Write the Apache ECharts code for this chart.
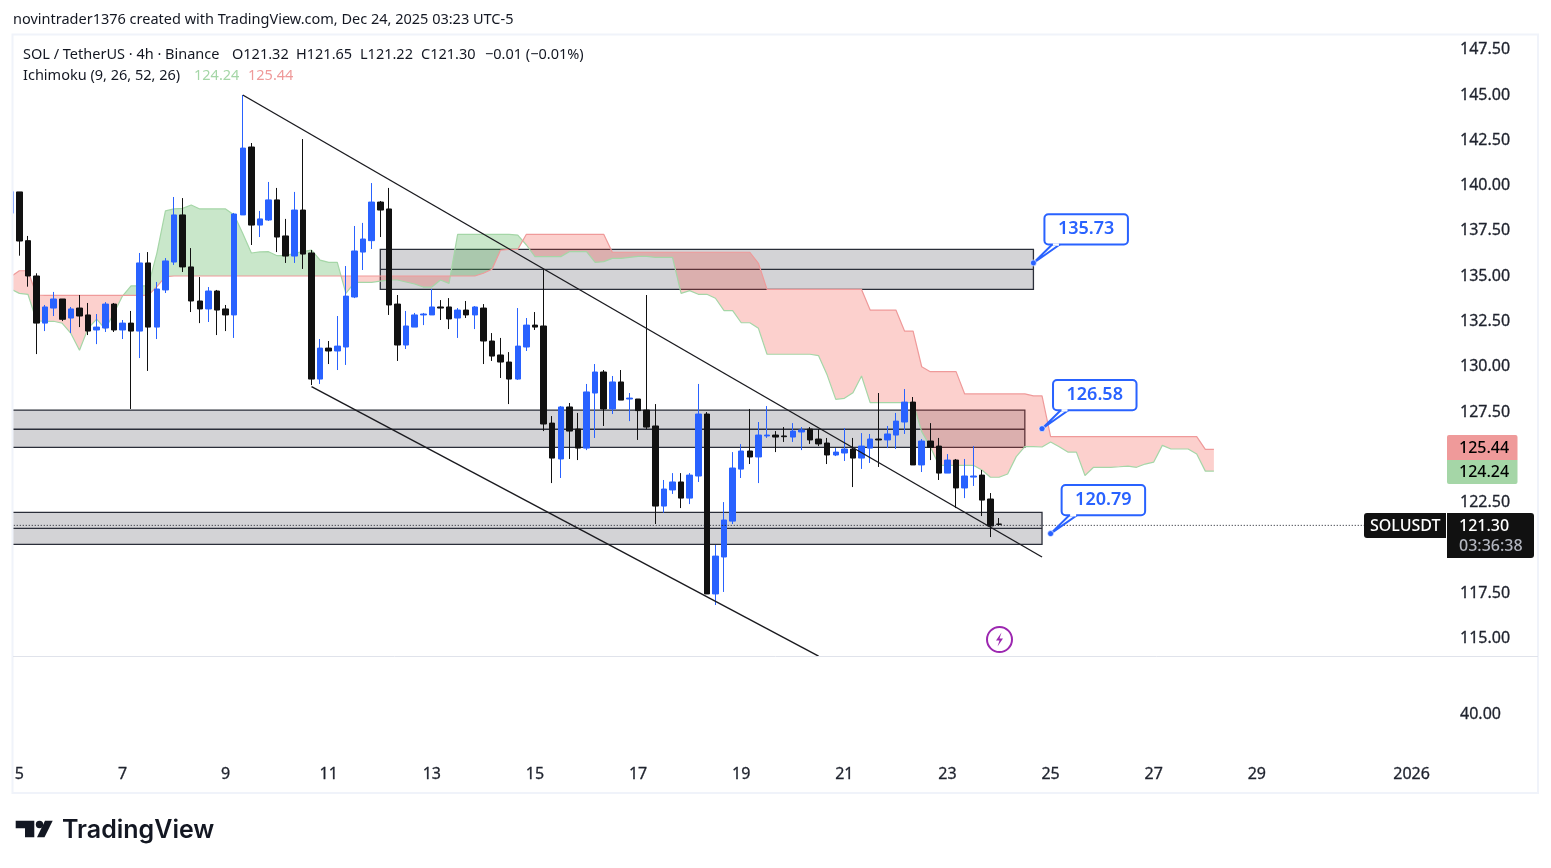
<!DOCTYPE html>
<html><head><meta charset="utf-8">
<style>html,body{margin:0;padding:0;background:#fff}#c{width:1551px;height:868px}</style>
<script src="https://cdn.jsdelivr.net/npm/echarts@6/dist/echarts.min.js"></script>
</head><body><div id="c"></div>
<script>
// candles: [open, close, low, high]; first entry is the bar cut off by the left edge
const candles = [
[138.48,139.66,138.48,139.66],
[139.65,136.94,136.13,139.65],[136.96,135.01,134.42,137.22],[135.01,132.41,130.70,135.16],[132.41,133.30,131.97,133.41],[133.24,133.74,132.80,134.13],
[133.74,132.62,132.52,133.74],[132.69,133.19,131.86,133.30],[133.24,132.80,132.19,133.96],[132.86,131.97,131.75,133.52],[132.03,132.19,131.25,132.91],
[132.14,133.46,131.92,133.57],[133.46,132.03,131.92,133.52],[132.03,132.41,131.53,132.58],[132.41,131.97,127.67,133.08],[131.97,135.73,130.48,136.28],
[135.73,132.19,129.77,136.33],[132.19,134.29,131.53,134.68],[134.24,135.84,134.07,136.00],[135.78,138.38,135.62,139.37],[138.38,135.51,135.23,139.31],
[135.51,133.63,133.02,136.55],[133.63,133.19,132.41,134.95],[133.19,134.18,132.47,134.40],[134.18,133.13,131.75,134.24],[133.19,132.86,131.97,133.41],
[132.86,138.43,131.59,138.49],[138.38,142.07,138.38,145.00],[142.13,137.82,136.72,142.35],[137.82,138.16,137.16,138.60],[138.10,139.21,138.05,140.20],
[139.21,137.16,136.33,139.87],[137.22,136.11,135.73,138.16],[136.11,138.65,135.73,139.65],[138.65,136.22,135.40,142.57],[136.28,129.32,128.99,136.44],
[129.32,131.03,129.05,131.53],[131.03,130.87,130.15,131.42],[130.87,131.14,129.82,132.80],[131.09,133.90,130.10,135.56],[133.85,136.39,133.79,137.77],
[136.33,137.05,135.34,137.94],[136.96,139.09,136.50,140.14],[139.09,138.65,137.16,139.15],[138.71,133.41,132.86,139.87],[133.46,131.20,130.32,133.96],
[131.20,132.25,130.98,133.08],[132.19,132.86,132.19,132.97],[132.86,132.91,132.30,132.97],[132.86,133.30,132.86,134.29],[133.30,133.24,132.58,133.68],
[133.30,132.64,132.08,133.79],[132.69,133.13,131.59,133.24],[133.13,132.86,132.69,133.63],[132.86,133.30,132.08,133.35],[133.24,131.42,130.15,133.46],
[131.42,130.59,130.32,131.86],[130.65,130.26,129.38,131.59],[130.26,129.32,127.94,130.81],[129.32,131.14,129.27,133.24],[131.09,132.30,130.87,132.69],
[132.30,132.19,132.03,133.02],[132.25,126.84,126.45,135.38],[126.89,124.96,123.58,127.28],[124.91,127.78,123.86,127.83],[127.78,126.45,124.91,128.00],
[126.56,125.51,124.85,127.45],[125.51,128.61,125.40,129.05],[128.55,129.71,126.07,130.15],[129.71,127.67,126.73,129.82],[127.67,129.16,127.39,129.49],
[129.16,128.16,128.16,129.82],[128.22,128.27,127.00,128.55],[128.22,127.58,125.96,128.22],[127.61,126.67,126.56,133.96],[126.73,122.31,121.32,127.94],
[122.31,123.25,121.94,123.75],[123.20,123.64,122.98,124.13],[123.64,122.75,122.20,124.13],[122.75,124.02,122.42,124.13],[123.97,127.39,123.64,129.05],
[127.39,117.46,117.46,127.50],[117.46,119.55,116.85,120.16],[119.50,121.54,117.57,122.53],[121.48,124.41,121.32,125.29],[124.35,125.35,123.86,125.73],
[125.35,125.02,124.63,127.67],[125.02,126.23,123.58,126.95],[126.18,126.23,126.07,127.83],[126.23,126.12,125.29,126.45],[126.18,126.14,125.85,126.67],
[126.12,126.45,125.85,126.89],[126.40,126.51,125.40,126.67],[126.56,125.96,125.74,126.67],[126.01,125.74,125.62,126.56],[125.79,125.13,124.63,126.07],
[125.13,125.29,125.07,125.51],[125.24,125.46,124.80,126.62],[125.46,124.96,123.36,126.07],[124.96,125.62,124.36,126.34],[125.51,126.01,124.69,126.29],
[126.01,125.96,124.47,128.55],[125.96,126.29,125.51,126.73],[126.23,127.00,125.46,127.45],[126.95,128.05,126.29,128.77],[128.05,124.58,124.58,128.33],
[124.58,125.90,124.19,126.01],[125.90,125.55,124.85,126.89],[125.62,124.13,123.75,126.07],[124.13,124.85,124.13,125.18],[124.85,123.31,122.20,124.91],
[123.31,123.97,122.75,124.91],[123.91,123.97,123.42,125.62],[124.02,122.64,121.76,124.30],[122.70,121.21,120.60,123.03],[121.32,121.30,121.22,121.65]
];
const spanA = [
134.29,134.05,134.00,132.54,132.51,132.51,132.40,131.84,130.91,132.12,132.63,132.08,132.95,133.90,134.46,134.46,134.46,136.26,138.60,138.71,
138.74,138.93,138.71,138.71,138.71,138.71,138.38,137.36,136.28,136.34,136.35,136.13,136.13,136.26,136.35,136.44,135.89,135.76,135.76,134.05,
134.66,134.66,134.66,134.73,134.79,134.79,134.68,134.57,134.40,134.40,134.79,134.60,137.31,137.31,137.31,137.31,137.31,137.31,137.31,137.27,
136.72,136.08,136.08,136.08,136.08,136.35,136.35,136.35,135.76,135.80,135.98,135.98,136.04,136.09,136.09,136.04,136.04,136.04,134.05,134.20,
134.00,134.00,133.78,133.10,133.10,132.43,132.43,132.12,130.69,130.69,130.69,130.69,130.69,130.69,130.61,129.54,128.20,128.26,128.57,129.49,
128.02,128.02,128.02,128.02,128.02,128.02,126.42,125.59,124.56,124.56,124.56,124.56,124.56,124.30,123.90,123.90,124.08,125.04,125.59,125.59,
125.57,125.85,125.59,125.29,125.29,124.00,124.45,124.45,124.45,124.48,124.52,124.45,124.63,124.74,125.66,125.46,125.46,125.46,125.18,124.24,124.24
];
const spanB = [
134.97,135.30,135.30,133.96,133.94,133.94,133.94,133.94,133.94,133.94,133.94,133.94,133.94,133.94,133.94,133.94,133.94,134.42,134.97,
135.01,135.01,135.01,135.01,135.01,135.01,135.01,135.01,135.01,135.01,135.01,135.01,135.01,135.01,135.01,135.01,135.01,135.01,135.01,
135.01,135.01,135.01,135.01,135.01,135.01,135.01,135.01,135.01,135.01,135.01,135.01,135.01,135.01,135.01,135.01,135.01,
135.16,135.38,136.44,136.48,136.48,
137.31,137.31,137.31,137.31,137.31,137.31,137.31,137.31,137.31,137.31,
136.32,136.32,136.32,136.32,136.32,136.32,136.32,136.32,136.32,136.32,136.32,136.32,136.32,136.32,136.32,136.32,136.32,
135.71,134.27,134.27,134.27,134.27,134.27,134.27,134.27,134.27,134.27,134.27,134.27,134.27,
133.13,133.13,133.13,133.13,131.97,131.97,130.00,129.73,129.73,129.73,129.73,
128.50,128.50,128.50,128.50,128.50,128.50,128.50,128.50,128.39,128.39,
126.14,126.14,126.14,126.14,126.14,126.14,126.14,126.14,126.14,126.14,126.14,126.14,126.14,126.14,126.14,126.14,126.14,126.14,125.44,125.44
];
// zones: [first bar, last bar, top, middle, bottom]
const zones = [[43,119,136.48,135.37,134.27],[0,118,127.61,126.55,125.55],[0,120,121.96,121.08,120.20]];
// trend lines: [bar, price, bar, price]
const trendLines = [[27,145.00,120,119.50],[35,128.90,94,114.03]];
const lastPriceLine = [[0,121.30,158,121.30]];
// callouts: [bar, price]
const callouts = [[119,135.73],[120,126.58],[121,120.79]];
const slotCount = 168;
const dateLabelBars = [1,13,25,37,49,61,73,85,97,109,121,133,145,163];
const dateLabels = ['5','7','9','11','13','15','17','19','21','23','25','27','29','2026'];
const priceTicks = [147.5,145,142.5,140,137.5,135,132.5,130,127.5,122.5,117.5,115];
const lowerTicks = [40];

const categories = new Array(slotCount).fill('');
dateLabelBars.forEach((b,i)=>{categories[b]=dateLabels[i];});

// cloud runs, each [first,last] with one colour
const cloudRuns = [];
(function(){
  let s=0;
  for(let i=1;i<=spanA.length;i++){
    if(i===spanA.length || (spanA[i]>=spanB[i])!==(spanA[s]>=spanB[s])){cloudRuns.push([s,i-1]);s=i;}
  }
})();
function crossing(api,i){
  const a0=spanA[i],b0=spanB[i],a1=spanA[i+1],b1=spanB[i+1];
  const t=(a0-b0)/((a0-b0)-(a1-b1));
  const p0=api.coord([i,a0]),p1=api.coord([i+1,a1]);
  return [p0[0]+(p1[0]-p0[0])*t,p0[1]+(p1[1]-p0[1])*t];
}
const font='"Noto Sans",sans-serif';
const INK='#131722';
const BLUE='#2962ff';
const axisText={color:'#1e222d',fontFamily:font,fontSize:16,textBorderColor:'#1e222d',textBorderWidth:0.3,padding:[6,0,0,0]};
const headText=(x,y,text,fill)=>({type:'text',z:110,style:{x,y,text,fill:fill||INK,font:'14.5px '+font,verticalAlign:'middle'}});
const tagText=(x,y,text,fill)=>({type:'text',z:106,style:{x,y,text,fill,font:'500 16px '+font,verticalAlign:'middle'}});

const option={
  animation:false,
  backgroundColor:'#fff',
  grid:[
    {left:6.44,top:4.415,width:1443.8,height:679.39},
    {left:6.44,top:668,width:1443.8,height:92}
  ],
  xAxis:[
    {type:'category',gridIndex:0,data:categories,show:false,boundaryGap:true},
    {type:'category',gridIndex:1,data:categories,boundaryGap:true,axisLine:{show:false},axisTick:{show:false},
      axisLabel:{interval:0,margin:6.5,color:'#1e222d',fontFamily:font,fontSize:16,textBorderColor:'#1e222d',textBorderWidth:0.3,hideOverlap:false},splitLine:{show:false}}
  ],
  yAxis:[
    {type:'value',gridIndex:0,position:'right',min:112.5,max:150,interval:2.5,axisLine:{show:false},axisTick:{show:false},splitLine:{show:false},
      axisLabel:Object.assign({margin:9.8,showMinLabel:true,showMaxLabel:true,
        formatter:v=>priceTicks.includes(v)?v.toFixed(2):''},axisText)},
    {type:'value',gridIndex:1,position:'right',min:0,max:80,interval:40,axisLine:{show:false},axisTick:{show:false},splitLine:{show:false},
      axisLabel:Object.assign({margin:9.8,
        formatter:v=>lowerTicks.includes(v)?v.toFixed(2):''},axisText)}
  ],
  series:[
    {type:'custom',name:'zones',xAxisIndex:0,yAxisIndex:0,z:1,clip:true,silent:true,data:zones,
      encode:{x:[0,1],y:[2,4]},
      renderItem(p,api){
        const i0=api.value(0),i1=api.value(1);
        const tl=api.coord([i0,api.value(2)]),tr=api.coord([i1,api.value(2)]);
        const ml=api.coord([i0,api.value(3)]),mr=api.coord([i1,api.value(3)]);
        const bl=api.coord([i0,api.value(4)]);
        const ls={stroke:'#2a2e39',lineWidth:1.3,fill:null};
        return {type:'group',children:[
          {type:'rect',shape:{x:tl[0],y:tl[1],width:tr[0]-tl[0],height:bl[1]-tl[1]},style:{fill:'#d3d3d6',stroke:'#2a2e39',lineWidth:1.3}},
          {type:'line',shape:{x1:ml[0],y1:ml[1],x2:mr[0],y2:mr[1]},style:ls}
        ]};
      }},
    {type:'custom',name:'cloud',xAxisIndex:0,yAxisIndex:0,z:2,clip:true,silent:true,data:cloudRuns,
      encode:{x:[0,1]},
      renderItem(p,api){
        const s=api.value(0),e=api.value(1);
        const up=spanA[s]>=spanB[s];
        const pts=[];
        if(s>0) pts.push(crossing(api,s-1));
        for(let i=s;i<=e;i++) pts.push(api.coord([i,spanA[i]]));
        if(e<spanA.length-1) pts.push(crossing(api,e));
        for(let i=e;i>=s;i--) pts.push(api.coord([i,spanB[i]]));
        return {type:'polygon',shape:{points:pts},style:{fill:up?'rgba(76,175,80,0.3)':'rgba(244,67,54,0.25)'}};
      }},
    {type:'line',name:'Leading A',xAxisIndex:0,yAxisIndex:0,z:3,data:spanA,showSymbol:false,silent:true,lineStyle:{color:'#a5d6a7',width:1.2}},
    {type:'line',name:'Leading B',xAxisIndex:0,yAxisIndex:0,z:3,data:spanB,showSymbol:false,silent:true,lineStyle:{color:'#ef9a9a',width:1.2}},
    {type:'candlestick',name:'SOLUSDT',xAxisIndex:0,yAxisIndex:0,z:4,barWidth:6,clip:true,data:candles,silent:true,
      itemStyle:{color:BLUE,color0:'#111111',borderColor:BLUE,borderColor0:'#111111',borderWidth:1}},
    {type:'custom',name:'trend',xAxisIndex:0,yAxisIndex:0,z:6,clip:true,silent:true,data:trendLines,
      encode:{x:[0,2],y:[1,3]},
      renderItem(p,api){
        const a=api.coord([api.value(0),api.value(1)]),b=api.coord([api.value(2),api.value(3)]);
        return {type:'line',shape:{x1:a[0],y1:a[1],x2:b[0],y2:b[1]},style:{stroke:'#1a1a1f',lineWidth:1.4,fill:null}};
      }},
    {type:'custom',name:'last',xAxisIndex:0,yAxisIndex:0,z:7,clip:true,silent:true,data:lastPriceLine,
      encode:{x:[0,2],y:[1,3]},
      renderItem(p,api){
        const a=api.coord([api.value(0),api.value(1)]),b=api.coord([api.value(2),api.value(3)]);
        return {type:'line',shape:{x1:a[0],y1:a[1]+1,x2:b[0],y2:b[1]+1},style:{stroke:'#131722',lineWidth:1,lineDash:[1,2],fill:null}};
      }},
    {type:'custom',name:'callouts',xAxisIndex:0,yAxisIndex:0,z:8,clip:false,silent:true,data:callouts,
      encode:{x:0,y:1},
      renderItem(p,api){
        const c=api.coord([api.value(0),api.value(1)]);
        const x=c[0],y=c[1];
        return {type:'group',children:[
          {type:'polygon',shape:{points:[[x,y],[x+18.7,y-18.4],[x+26.3,y-18.4]]},style:{fill:'#fff',stroke:BLUE,lineWidth:2}},
          {type:'rect',shape:{x:x+11,y:y-48.6,width:83.5,height:30.2,r:4},style:{fill:'#fff',stroke:BLUE,lineWidth:2}},
          {type:'line',shape:{x1:x+19.5,y1:y-18.4,x2:x+25.5,y2:y-18.4},style:{stroke:'#fff',lineWidth:2.4}},
          {type:'circle',shape:{cx:x,cy:y,r:3},style:{fill:BLUE,stroke:'rgba(255,255,255,0.6)',lineWidth:1}},
          {type:'text',style:{x:x+52.7,y:y-34,text:api.value(1).toFixed(2),fill:BLUE,font:'600 18px '+font,align:'center',verticalAlign:'middle'}}
        ]};
      }}
  ],
  graphic:[
    {type:'rect',z:100,silent:true,shape:{x:0,y:35,width:12.5,height:758},style:{fill:'#fff'}},
    {type:'rect',z:101,silent:true,shape:{x:12.5,y:34.5,width:1525.5,height:758.5},style:{fill:null,stroke:'#f0f3fa',lineWidth:2}},
    {type:'line',z:101,silent:true,shape:{x1:13,y1:656.5,x2:1538,y2:656.5},style:{stroke:'#e0e3eb',lineWidth:1}},
    // header and legend
    headText(13,20,'novintrader1376 created with TradingView.com, Dec 24, 2025 03:23 UTC-5'),
    headText(23,54.5,'SOL / TetherUS · 4h · Binance'),
    headText(232,54.5,'O121.32'),
    headText(296,54.5,'H121.65'),
    headText(360,54.5,'L121.22'),
    headText(421,54.5,'C121.30'),
    headText(485,54.5,'−0.01 (−0.01%)'),
    headText(23,75.5,'Ichimoku (9, 26, 52, 26)'),
    headText(194,75.5,'124.24','#a5d6a7'),
    headText(248,75.5,'125.44','#ef9a9a'),
    // price tags
    {type:'rect',z:105,shape:{x:1447,y:435,width:70.5,height:25,r:[2,2,0,0]},style:{fill:'#ef9a9a'}},
    {type:'rect',z:105,shape:{x:1447,y:460,width:70.5,height:24,r:[0,0,2,2]},style:{fill:'#a5d6a7'}},
    tagText(1459,448,'125.44','#000'),
    tagText(1459,472.5,'124.24','#000'),
    {type:'rect',z:105,shape:{x:1364,y:513,width:82,height:25,r:[3,0,0,3]},style:{fill:'#111111'}},
    {type:'rect',z:105,shape:{x:1447,y:513,width:87,height:45,r:[0,3,3,0]},style:{fill:'#111111'}},
    tagText(1370,526,'SOLUSDT','#fff'),
    tagText(1459,526,'121.30','#fff'),
    tagText(1459,546,'03:36:38','#b2b5be'),
    // event marker
    {type:'circle',z:105,shape:{cx:999.5,cy:639.5,r:12.5},style:{fill:'#fff',stroke:'#9c27b0',lineWidth:2}},
    {type:'polygon',z:106,shape:{points:[[1001.5,632.5],[996,640.5],[999.5,640.5],[997.5,646.5],[1003,638.5],[999.5,638.5]]},style:{fill:'#9c27b0'}},
    // logo
    {type:'polygon',z:110,shape:{points:[[15.7,820.7],[34.3,820.7],[34.3,837.3],[25,837.3],[25,828.3],[15.7,828.3]]},style:{fill:'#131722'}},
    {type:'circle',z:110,shape:{cx:39.5,cy:824.5,r:3.7},style:{fill:'#131722'}},
    {type:'polygon',z:110,shape:{points:[[45,820.7],[52.7,820.7],[44.5,837.3],[37,837.3]]},style:{fill:'#131722'}},
    {type:'text',z:110,style:{x:62,y:830,text:'TradingView',fill:'#131722',font:'600 25px Inter,sans-serif',verticalAlign:'middle'}}
  ]
};
const chart=echarts.init(document.getElementById('c'),null,{renderer:'canvas'});
chart.setOption(option);
</script></body></html>
